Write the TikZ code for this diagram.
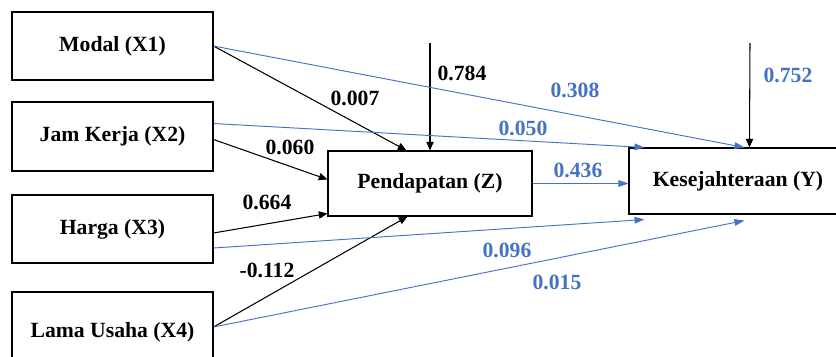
\documentclass[tikz,border=0pt]{standalone}
\usepackage{fontspec}
\newfontfamily\pathfont{Liberation Serif}[BoldFont={Liberation Serif Bold}]
\usepackage{tikz}
\usetikzlibrary{arrows.meta, calc}
\definecolor{pathblue}{RGB}{68,114,196}

\begin{document}
\begin{tikzpicture}[x=0.03cm, y=-0.03cm,
		varbox/.style={draw, line width=0.9pt, minimum width=201*0.03cm, font=\pathfont\fontsize{18.5}{20}\selectfont\bfseries},
		blk/.style={black, line width=0.9pt, -{Triangle[length=2.6mm, width=2.2mm]}},
		blu/.style={pathblue, line width=0.8pt, -{Triangle[length=3mm, width=2mm]}},
		lbl/.style={font=\pathfont\fontsize{18.5}{20}\selectfont\bfseries},
		lblb/.style={lbl, text=pathblue}]
	\useasboundingbox (0,0) rectangle (836,356);
	\node[varbox, minimum height=68*0.03cm] (x1) at (112.5,46) {Modal (X1)};
	\node[varbox, minimum height=69*0.03cm] (x2) at (112.5,136.5) {Jam Kerja (X2)};
	\node[varbox, minimum height=68*0.03cm] (x3) at (112.5,229) {Harga (X3)};
	\node[varbox, minimum height=80*0.03cm] (x4) at (112.5,332) {Lama Usaha (X4)};
	\node[varbox, minimum width=204*0.03cm, minimum height=65*0.03cm] (z) at (430,183.5) {Pendapatan (Z)};
	\node[varbox, minimum width=218*0.03cm, minimum height=66*0.03cm] (y) at (738,181) {Kesejahteraan (Y)};
	\coordinate (ez) at (430,43);
	\coordinate (ey) at (750,43);
	% jalur ke Z
	\draw[blk] (x1.east) -- ($(z.north west)+(79,0)$);
	\draw[blk] ($(x2.east)+(0,3)$) -- ($(z.north west)+(0,29)$);
	\draw[blk] ($(x3.east)+(0,4)$) -- ($(z.south west)+(0,-3)$);
	\draw[blk] ($(x4.east)+(0,-5)$) -- ($(z.south west)+(80,0)$);
	\draw[blk] (ez) -- (z.north);
	\draw[blk] (ey) -- ($(y.north west)+(121,0)$);
	% jalur ke Y
	\draw[blu] (x1.east) -- ($(y.north west)+(116,0)$);
	\draw[blu] ($(x2.east)+(0,-13)$) -- ($(y.north west)+(16,0)$);
	\draw[blu, line width=0.5pt] (z.east) -- (z.east -| y.west);
	\draw[blu] ($(x3.east)+(0,19)$) -- ($(y.south west)+(16,5)$);
	\draw[blu] ($(x4.east)+(0,-5)$) -- ($(y.south west)+(116,6)$);
	\node[lbl] (l1) at (355,98) {0.007};
	\node[lbl] (l2) at (290,147) {0.060};
	\node[lbl] (l3) at (267,202) {0.664};
	\node[lbl] (l4) at (267,270) {-0.112};
	\node[lbl] (l5) at (462,73) {0.784};
	\node[lblb] (l6) at (575,90) {0.308};
	\node[lblb] (l7) at (523,128) {0.050};
	\node[lblb] (l8) at (578,170) {0.436};
	\node[lblb] (l9) at (788,75) {0.752};
	\node[lblb] (l10) at (507,250) {0.096};
	\node[lblb] (l11) at (557,282) {0.015};
\end{tikzpicture}
\end{document}
